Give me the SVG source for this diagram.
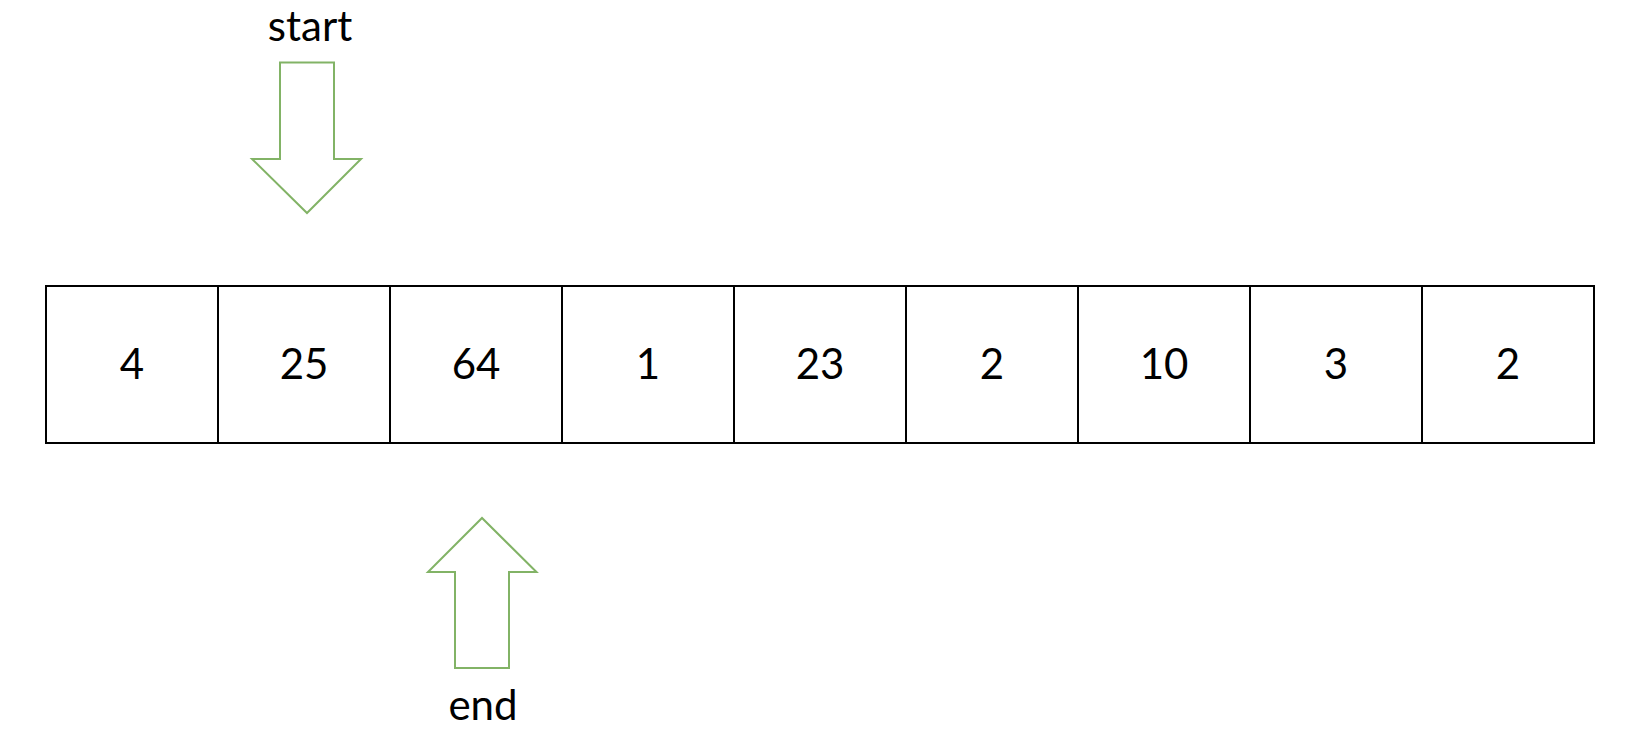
<svg xmlns="http://www.w3.org/2000/svg" width="1644" height="740" viewBox="0 0 1644 740">
<style>
.cell{fill:#ffffff;stroke:#000000;stroke-width:2}
.num{font-family:Lato,"Open Sans","Liberation Sans",sans-serif;font-size:42px;fill:#000000;text-anchor:middle}
.arrow{fill:#ffffff;stroke:#82b366;stroke-width:2;stroke-linejoin:miter}
.lbl{font-family:Lato,"Open Sans","Liberation Sans",sans-serif;font-size:42px;fill:#000000;text-anchor:middle}
</style>
<rect width="1644" height="740" fill="#ffffff"/>
<g id="cell0"><rect class="cell" x="46" y="286" width="172" height="157"/><text class="num" x="132" y="379">4</text></g>
<g id="cell1"><rect class="cell" x="218" y="286" width="172" height="157"/><text class="num" x="304" y="379">25</text></g>
<g id="cell2"><rect class="cell" x="390" y="286" width="172" height="157"/><text class="num" x="476" y="379">64</text></g>
<g id="cell3"><rect class="cell" x="562" y="286" width="172" height="157"/><text class="num" x="648" y="379">1</text></g>
<g id="cell4"><rect class="cell" x="734" y="286" width="172" height="157"/><text class="num" x="820" y="379">23</text></g>
<g id="cell5"><rect class="cell" x="906" y="286" width="172" height="157"/><text class="num" x="992" y="379">2</text></g>
<g id="cell6"><rect class="cell" x="1078" y="286" width="172" height="157"/><text class="num" x="1164" y="379">10</text></g>
<g id="cell7"><rect class="cell" x="1250" y="286" width="172" height="157"/><text class="num" x="1336" y="379">3</text></g>
<g id="cell8"><rect class="cell" x="1422" y="286" width="172" height="157"/><text class="num" x="1508" y="379">2</text></g>
<g id="start">
<text class="lbl" x="310" y="41">start</text>
<path class="arrow" d="M280,62.5 H334 V159 H361 L307,213 L252,159 H280 Z"/>
</g>
<g id="end">
<path class="arrow" d="M455,668 H509 V572 H536.5 L482,518 L428,572 H455 Z"/>
<text class="lbl" x="483" y="720">end</text>
</g>
<g id="connectors"></g>
</svg>
